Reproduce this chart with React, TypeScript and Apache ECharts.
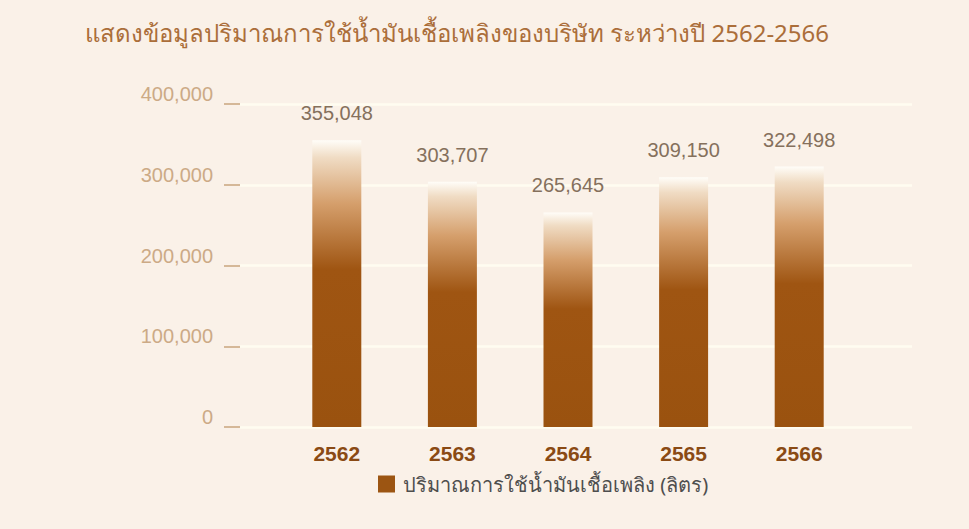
import React, { useEffect, useRef } from "react";
import * as echarts from "echarts";

const titleText = "แสดงข้อมูลปริมาณการใช้น้ำมันเชื้อเพลิงของบริษัท ระหว่างปี 2562-2566";
const seriesName = "ปริมาณการใช้น้ำมันเชื้อเพลิง (ลิตร)";
const years = ["2562", "2563", "2564", "2565", "2566"];
const fuelValues = [355048, 303707, 265645, 309150, 322498];
const yMin = 0;
const yMax = 400000;
const yInterval = 100000;

const barGradient = {
  type: "linear",
  x: 0,
  y: 0,
  x2: 0,
  y2: 1,
  colorStops: [
    { offset: 0, color: "#fffdf8" },
    { offset: 0.06, color: "#f0dcc4" },
    { offset: 0.22, color: "#d59f6c" },
    { offset: 0.45, color: "#9f5512" },
    { offset: 1, color: "#9a520f" },
  ],
};

export default function App() {
  const ref = useRef<HTMLDivElement>(null);
  useEffect(() => {
    document.body.style.margin = "0";
    const chart = echarts.init(ref.current!, null, { renderer: "svg" });
    chart.setOption({
      animation: false,
      backgroundColor: "#faf1e8",
      title: {
        text: titleText,
        left: 80,
        top: 15,
        textStyle: {
          color: "#ab6e3a",
          fontSize: 24,
          fontWeight: "normal",
          fontFamily: "Noto Sans, sans-serif",
        },
      },
      legend: {
        left: 373,
        top: 469,
        icon: "rect",
        itemWidth: 17,
        itemHeight: 17,
        itemGap: 10,
        textStyle: { color: "#4e4e4e", fontSize: 20, fontFamily: "Noto Sans, sans-serif", padding: [0, 0, 0, 3] },
        data: [{ name: seriesName, itemStyle: { color: "#9c5512" } }],
      },
      grid: [
        { left: 240, right: 57, top: 104, bottom: 102 },
        { left: 279, right: 112, top: 104, bottom: 102 },
      ],
      xAxis: [
        { gridIndex: 0, type: "value", min: 0, max: 1, show: false },
        {
          gridIndex: 1,
          type: "category",
          data: years,
          axisLine: { show: false },
          axisTick: { show: false },
          axisLabel: {
            margin: 16,
            color: "#8a4a14",
            fontSize: 21,
            fontWeight: "bold",
            fontFamily: "Arial, Liberation Sans, sans-serif",
          },
        },
      ],
      yAxis: [
        {
          gridIndex: 0,
          type: "value",
          min: yMin,
          max: yMax,
          interval: yInterval,
          offset: 4,
          axisLine: { show: false },
          axisTick: { show: true, length: 16, lineStyle: { color: "#c9a47e", width: 1.5 } },
          splitLine: { show: true, lineStyle: { color: "#fffcf1", width: 2.5 } },
          axisLabel: {
            margin: 23,
            verticalAlign: "bottom",
            color: "#ccaa86",
            fontSize: 20,
            fontFamily: "Arial, Liberation Sans, sans-serif",
            formatter: (v: number) => v.toLocaleString("en-US"),
          },
        },
        {
          gridIndex: 1,
          type: "value",
          min: yMin,
          max: yMax,
          interval: yInterval,
          show: false,
          splitLine: { show: false },
        },
      ],
      series: [
        {
          name: seriesName,
          type: "bar",
          xAxisIndex: 1,
          yAxisIndex: 1,
          data: fuelValues,
          barWidth: 49,
          itemStyle: { color: barGradient },
          label: {
            show: true,
            position: "top",
            distance: 17,
            color: "#85705c",
            fontSize: 20,
            fontFamily: "Arial, Liberation Sans, sans-serif",
            formatter: (p: any) => Number(p.value).toLocaleString("en-US"),
          },
        },
      ],
    });
    return () => chart.dispose();
  }, []);
  return (
    <div
      ref={ref}
      style={{ position: "fixed", left: 0, top: 0, width: 969, height: 529 }}
    />
  );
}
